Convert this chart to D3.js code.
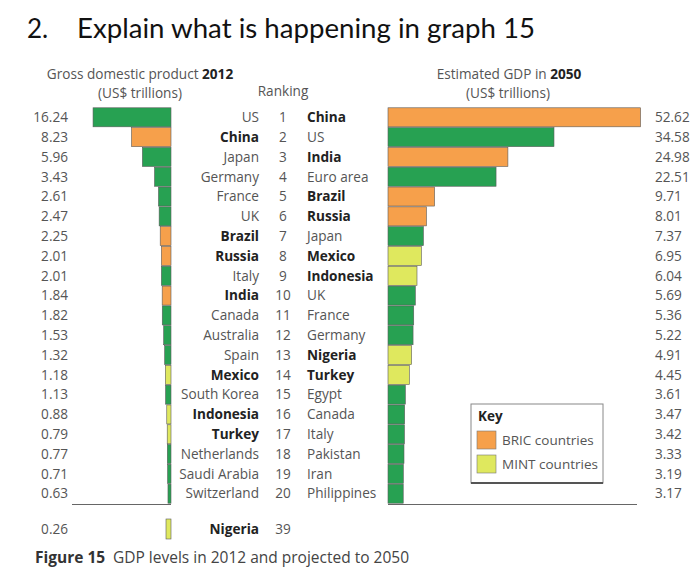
<!DOCTYPE html>
<html><head><meta charset="utf-8">
<script src="https://cdn.jsdelivr.net/npm/d3@7"></script>
<style>body{margin:0;background:#fff}svg{display:block}</style>
</head><body>
<script>
// Data
const names2012 = ["US","China","Japan","Germany","France","UK","Brazil","Russia","Italy","India","Canada","Australia","Spain","Mexico","South Korea","Indonesia","Turkey","Netherlands","Saudi Arabia","Switzerland"];
const values2012 = [16.24,8.23,5.96,3.43,2.61,2.47,2.25,2.01,2.01,1.84,1.82,1.53,1.32,1.18,1.13,0.88,0.79,0.77,0.71,0.63];
const groups2012 = ["o","B","o","o","o","o","B","B","o","B","o","o","o","M","o","M","M","o","o","o"];
const names2050 = ["China","US","India","Euro area","Brazil","Russia","Japan","Mexico","Indonesia","UK","France","Germany","Nigeria","Turkey","Egypt","Canada","Italy","Pakistan","Iran","Philippines"];
const values2050 = [52.62,34.58,24.98,22.51,9.71,8.01,7.37,6.95,6.04,5.69,5.36,5.22,4.91,4.45,3.61,3.47,3.42,3.33,3.19,3.17];
const groups2050 = ["B","o","B","o","B","B","o","M","M","o","o","o","M","M","o","o","o","o","o","o"];
const ranks = d3.range(1,21);
const extraName = "Nigeria", extraValue = 0.26, extraRank = 39, extraGroup = "M";
const legendLabels = ["BRIC countries","MINT countries"];

const W=698,H=577;
const colors = {o:"#27a152", B:"#f6a04b", M:"#dfe85e"};
const svg = d3.select("body").append("svg").attr("width",W).attr("height",H)
  .style("font-family","'Open Sans', sans-serif");

// Title
const tf = "Lato, 'Open Sans', sans-serif";
svg.append("text").attr("x",27).attr("y",38).attr("font-size",26).attr("fill","#111")
  .style("font-family",tf).text("2.");
svg.append("text").attr("x",77).attr("y",38).attr("font-size",26).attr("fill","#111")
  .attr("textLength",458).attr("lengthAdjust","spacingAndGlyphs")
  .style("font-family",tf).text("Explain what is happening in graph 15");

const y = d3.scaleBand().domain(d3.range(20)).range([107,504]).padding(0.04);
const xL = d3.scaleLinear().domain([0,17]).range([171,171-17*4.8]);
const xR = d3.scaleLinear().domain([0,55]).range([388,388+55*4.8]);
const fs = 13.6;
const hs = 13.6;
const grey = "#555", dark="#222";

// headers
const h1 = svg.append("text").attr("x",140).attr("y",79).attr("text-anchor","middle").attr("font-size",hs).attr("fill",grey);
h1.append("tspan").text("Gross domestic product ");
h1.append("tspan").attr("font-weight","bold").attr("fill",dark).text("2012");
svg.append("text").attr("x",140).attr("y",98).attr("text-anchor","middle").attr("font-size",hs).attr("fill",grey).text("(US$ trillions)");
svg.append("text").attr("x",283).attr("y",96).attr("text-anchor","middle").attr("font-size",hs).attr("fill",grey).text("Ranking");
const h2 = svg.append("text").attr("x",509).attr("y",79).attr("text-anchor","middle").attr("font-size",hs).attr("fill",grey);
h2.append("tspan").text("Estimated GDP in ");
h2.append("tspan").attr("font-weight","bold").attr("fill",dark).text("2050");
svg.append("text").attr("x",508).attr("y",98).attr("text-anchor","middle").attr("font-size",hs).attr("fill",grey).text("(US$ trillions)");

// left bars
svg.append("g").selectAll("rect").data(values2012).join("rect")
  .attr("x",d=>xL(d)).attr("width",d=>xL(0)-xL(d))
  .attr("y",(d,i)=>y(i)).attr("height",y.bandwidth())
  .attr("fill",(d,i)=>colors[groups2012[i]]).attr("stroke","#5a5a5a").attr("stroke-width",0.6);
// right bars
svg.append("g").selectAll("rect").data(values2050).join("rect")
  .attr("x",xR(0)).attr("width",d=>xR(d)-xR(0))
  .attr("y",(d,i)=>y(i)).attr("height",y.bandwidth())
  .attr("fill",(d,i)=>colors[groups2050[i]]).attr("stroke","#5a5a5a").attr("stroke-width",0.6);

const cy = i => y(i)+y.bandwidth()/2+4.8;
// left values
svg.append("g").selectAll("text").data(values2012).join("text")
  .attr("x",68).attr("y",(d,i)=>cy(i)).attr("text-anchor","end").attr("font-size",fs).attr("fill",grey)
  .text(d=>d.toFixed(2));
// right values
svg.append("g").selectAll("text").data(values2050).join("text")
  .attr("x",655).attr("y",(d,i)=>cy(i)).attr("font-size",fs).attr("fill",grey)
  .text(d=>d.toFixed(2));
// left names
svg.append("g").selectAll("text").data(names2012).join("text")
  .attr("x",259).attr("y",(d,i)=>cy(i)).attr("text-anchor","end").attr("font-size",fs)
  .attr("font-weight",(d,i)=>groups2012[i]==="o"?"normal":"bold")
  .attr("fill",(d,i)=>groups2012[i]==="o"?grey:dark).text(d=>d);
// ranks
svg.append("g").selectAll("text").data(ranks).join("text")
  .attr("x",283).attr("y",(d,i)=>cy(i)).attr("text-anchor","middle").attr("font-size",fs).attr("fill",grey).text(d=>d);
// right names
svg.append("g").selectAll("text").data(names2050).join("text")
  .attr("x",307).attr("y",(d,i)=>cy(i)).attr("font-size",fs)
  .attr("font-weight",(d,i)=>groups2050[i]==="o"?"normal":"bold")
  .attr("fill",(d,i)=>groups2050[i]==="o"?grey:dark).text(d=>d);

// baselines
svg.append("line").attr("x1",72).attr("x2",171).attr("y1",504.5).attr("y2",504.5).attr("stroke","#666").attr("stroke-width",1.2);
svg.append("line").attr("x1",388).attr("x2",637).attr("y1",504.5).attr("y2",504.5).attr("stroke","#666").attr("stroke-width",1.2);

// Nigeria extra row
const ny0 = 519, nh = 20;
svg.append("rect").attr("x",Math.min(xL(extraValue),166)).attr("width",xL(0)-Math.min(xL(extraValue),166))
  .attr("y",ny0).attr("height",nh).attr("fill",colors[extraGroup]).attr("stroke","#5a5a5a").attr("stroke-width",0.6);
svg.append("text").attr("x",68).attr("y",ny0+nh/2+4.8).attr("text-anchor","end").attr("font-size",fs).attr("fill",grey).text(extraValue.toFixed(2));
svg.append("text").attr("x",259).attr("y",ny0+nh/2+4.8).attr("text-anchor","end").attr("font-size",fs).attr("font-weight","bold").attr("fill",dark).text(extraName);
svg.append("text").attr("x",283).attr("y",ny0+nh/2+4.8).attr("text-anchor","middle").attr("font-size",fs).attr("fill",grey).text(extraRank);

// legend
const lg = svg.append("g");
lg.append("rect").attr("x",471).attr("y",404).attr("width",132).attr("height",79).attr("fill","#fff").attr("stroke","#888").attr("stroke-width",1);
lg.append("line").attr("x1",471).attr("x2",603).attr("y1",483).attr("y2",483).attr("stroke","#555").attr("stroke-width",2);
lg.append("text").attr("x",478).attr("y",421).attr("font-size",13.5).attr("font-weight","bold").attr("fill",dark).text("Key");
["B","M"].forEach((g,i)=>{
  lg.append("rect").attr("x",477).attr("y",431+i*24).attr("width",19).attr("height",18).attr("fill",colors[g]).attr("stroke","#777").attr("stroke-width",0.6);
  lg.append("text").attr("x",502).attr("y",445+i*24).attr("font-size",13.5).attr("fill",grey).text(legendLabels[i]);
});

// caption
const cap = svg.append("text").attr("x",35).attr("y",563).attr("font-size",15.5).attr("fill","#444");
cap.append("tspan").attr("font-weight","bold").attr("fill","#333").text("Figure 15");
cap.append("tspan").attr("x",113).text("GDP levels in 2012 and projected to 2050");
</script>
</body></html>
